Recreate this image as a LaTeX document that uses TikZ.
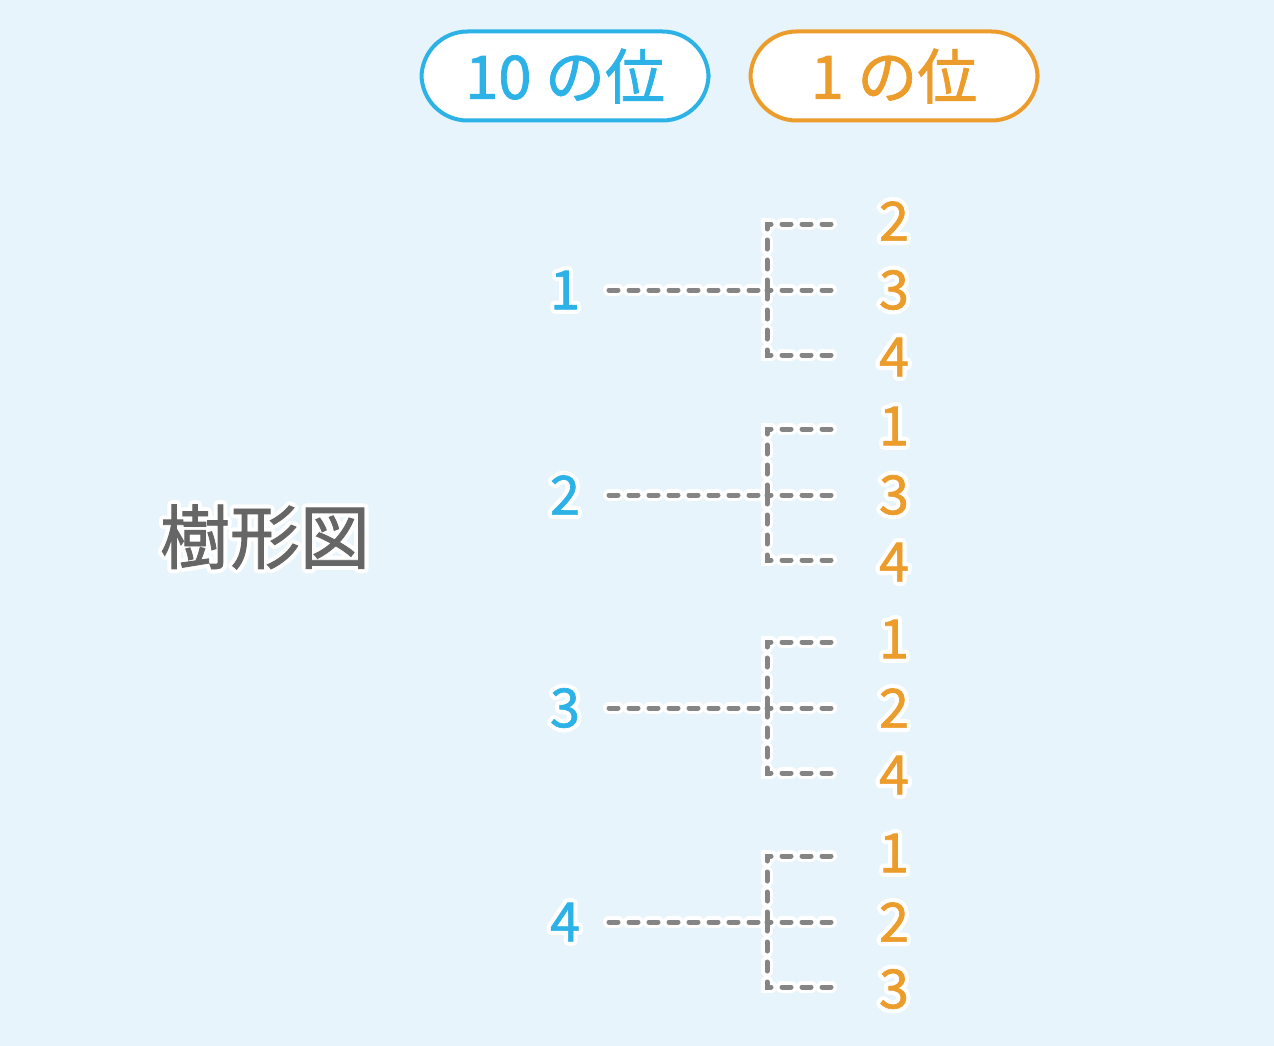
\documentclass[tikz,border=0pt]{standalone}
\usepackage{fontspec}
\setmainfont{Noto Sans CJK JP}[FakeBold=1.2]
\newfontfamily\halofont{Noto Sans CJK JP}
\usetikzlibrary{calc}
\definecolor{bg}{HTML}{E8F4FC}
\definecolor{tblue}{HTML}{2DB2E8}
\definecolor{torange}{HTML}{EC9C2B}
\definecolor{lgray}{HTML}{858585}
\definecolor{tgray}{HTML}{666666}
\newcommand\hnode[5]{%
  \node[#5,text=white] at (#2) {\halofont\special{pdf:literal 1 j 9 w 1 Tr}#4\special{pdf:literal 0 Tr}};
  \node[#5,text=#3] (#1) at (#2) {#4};}
\tikzset{
  pill/.style={draw, line width=4pt, fill=white, rounded corners=46pt, minimum width=287pt, minimum height=89pt, inner sep=0pt, font=\fontsize{60}{66}\selectfont},
  num/.style={inner sep=0pt, font=\fontsize{54}{60}\selectfont},
  title/.style={inner sep=0pt, font=\fontsize{70}{76}\selectfont},
  halo/.style={white, line width=12pt, line cap=round, dash pattern=on 9pt off 11pt},
  dline/.style={lgray, line width=5pt, line cap=round, dash pattern=on 9pt off 11pt},
}
\begin{document}
\begin{tikzpicture}[x=1pt,y=-1pt]
\fill[bg] (0,0) rectangle (1274,1046);
\useasboundingbox (0,0) rectangle (1274,1046);
\node[pill, draw=tblue, text=tblue] (p10) at (565,76) {10 の位};
\node[pill, draw=torange, text=torange] (p1) at (894,76) {1 の位};
\hnode{title}{265,537}{tgray}{樹形図}{title}
\foreach \g/\y/\r/\la/\lb/\lc in {1/290/1/2/3/4, 2/495/2/1/3/4, 3/708/3/1/2/4, 4/922/4/1/2/3}{
  \hnode{r\g}{565,\y}{tblue}{\r}{num}
  \coordinate (s\g) at (609,\y);
  \coordinate (j\g) at (767,\y);
  \coordinate (ta\g) at (767,\y-66);
  \coordinate (tc\g) at (767,\y+65);
  \coordinate (ea\g) at (831,\y-66);
  \coordinate (eb\g) at (831,\y);
  \coordinate (ec\g) at (831,\y+65);
  \foreach \st in {halo,dline}{
    \draw[\st] (s\g) -- (j\g);
    \draw[\st] (eb\g) -- (j\g);
    \draw[\st] (ea\g) -- (ta\g) -- (j\g);
    \draw[\st] (ec\g) -- (tc\g) -- (j\g);
  }
  \hnode{la\g}{894,\y-69}{torange}{\la}{num}
  \hnode{lb\g}{894,\y}{torange}{\lb}{num}
  \hnode{lc\g}{894,\y+67}{torange}{\lc}{num}
}
\end{tikzpicture}
\end{document}
